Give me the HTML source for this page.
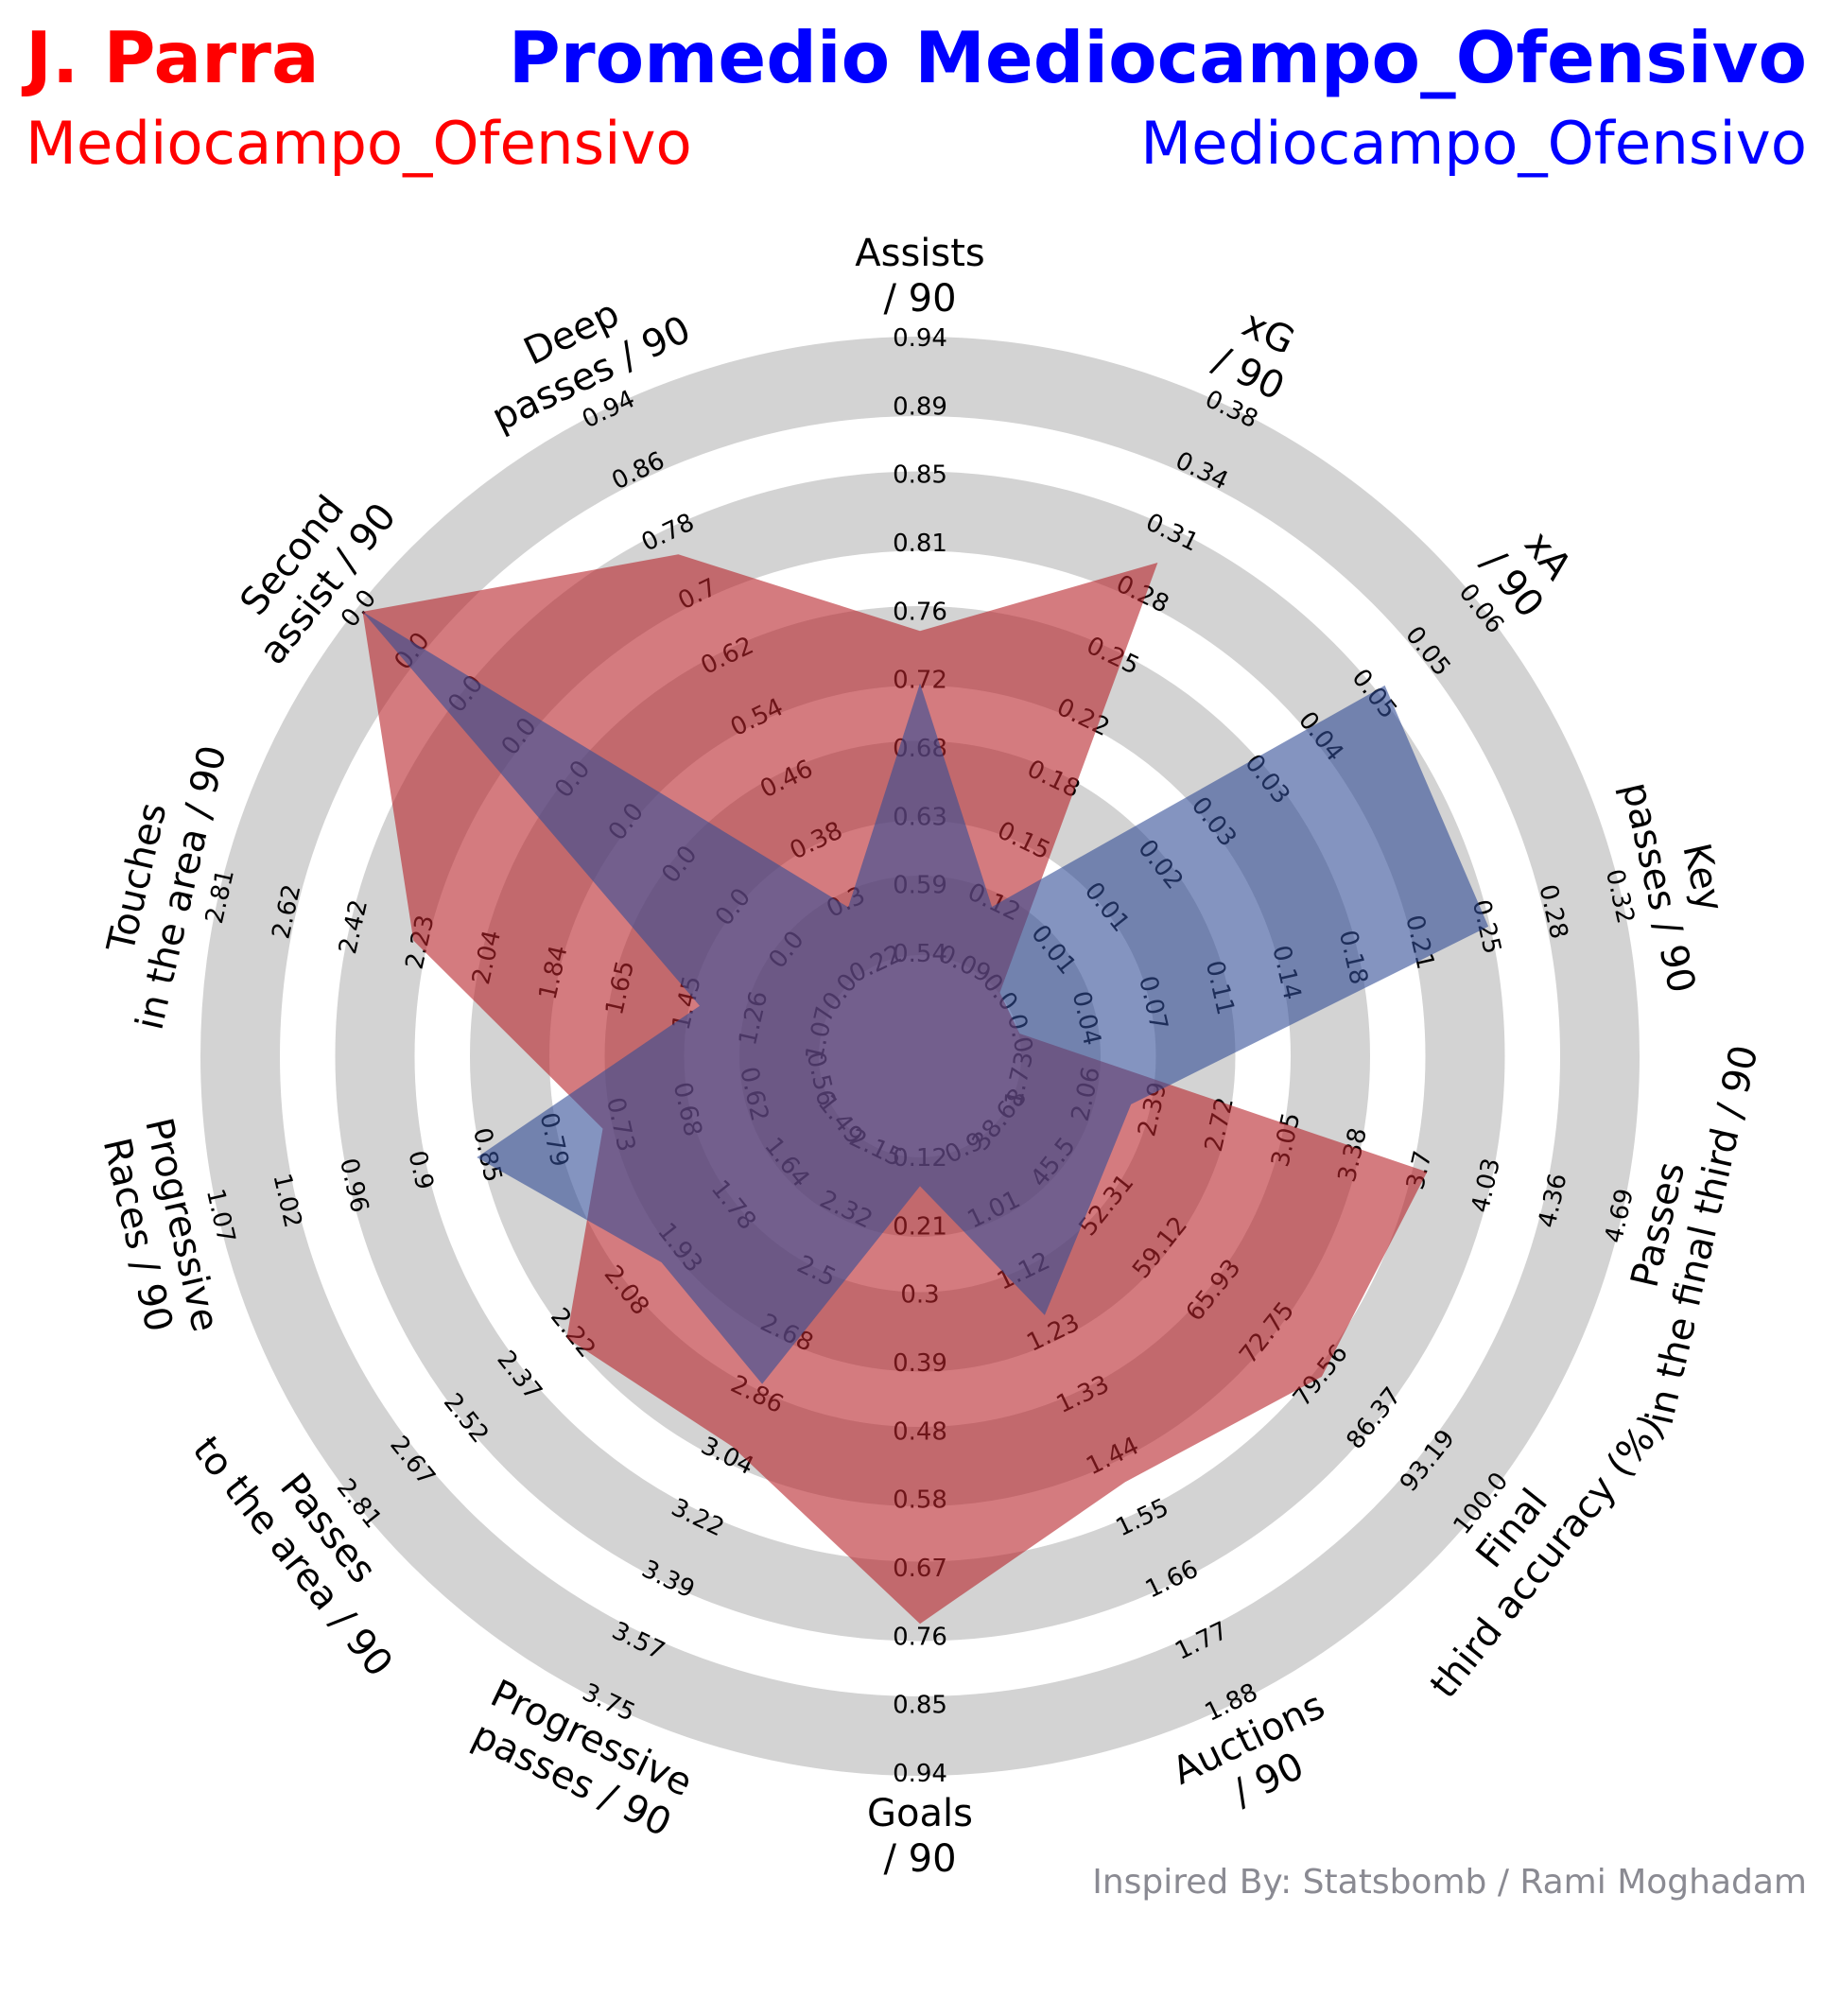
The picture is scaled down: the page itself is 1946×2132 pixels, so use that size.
<!DOCTYPE html>
<html><head><meta charset="utf-8"><style>
html,body{margin:0;padding:0;background:#fff}
svg{display:block}
text{font-family:"DejaVu Sans","Liberation Sans",sans-serif}
</style></head>
<body>
<svg id="chart" width="1946" height="2132" viewBox="0 0 1946 2132" xmlns="http://www.w3.org/2000/svg">
<rect x="0" y="0" width="1946" height="2132" fill="#fff"/>
<text x="27" y="87" font-size="75" font-weight="bold" fill="#ff0000">J. Parra</text>
<text x="1911" y="87" font-size="75" font-weight="bold" fill="#0000ff" text-anchor="end">Promedio Mediocampo_Ofensivo</text>
<text x="27" y="173" font-size="62.5" fill="#ff0000">Mediocampo_Ofensivo</text>
<text x="1911" y="173" font-size="62.5" fill="#0000ff" text-anchor="end">Mediocampo_Ofensivo</text>
<g id="rings"></g>
<g id="ticks"></g>
<g id="polys"></g>
<g id="cats"></g>
<text x="1911" y="2002" font-size="36" fill="#8a8a92" text-anchor="end">Inspired By: Statsbomb / Rami Moghadam</text>
</svg>
<script>
const categories = [
  ["Assists","/ 90"],["xG","/ 90"],["xA","/ 90"],["Key","passes / 90"],
  ["Passes","in the final third / 90"],["Final","third accuracy (%)"],["Auctions","/ 90"],
  ["Goals","/ 90"],["Progressive","passes / 90"],["Passes","to the area / 90"],
  ["Progressive","Races / 90"],["Touches","in the area / 90"],["Second","assist / 90"],["Deep","passes / 90"]
];
const tickLabels = [
  ["0.54","0.59","0.63","0.68","0.72","0.76","0.81","0.85","0.89","0.94"],
  ["0.09","0.12","0.15","0.18","0.22","0.25","0.28","0.31","0.34","0.38"],
  ["0.0","0.01","0.01","0.02","0.03","0.03","0.04","0.05","0.05","0.06"],
  ["0.0","0.04","0.07","0.11","0.14","0.18","0.21","0.25","0.28","0.32"],
  ["1.73","2.06","2.39","2.72","3.05","3.38","3.7","4.03","4.36","4.69"],
  ["38.68","45.5","52.31","59.12","65.93","72.75","79.56","86.37","93.19","100.0"],
  ["0.9","1.01","1.12","1.23","1.33","1.44","1.55","1.66","1.77","1.88"],
  ["0.12","0.21","0.3","0.39","0.48","0.58","0.67","0.76","0.85","0.94"],
  ["2.15","2.32","2.5","2.68","2.86","3.04","3.22","3.39","3.57","3.75"],
  ["1.49","1.64","1.78","1.93","2.08","2.22","2.37","2.52","2.67","2.81"],
  ["0.56","0.62","0.68","0.73","0.79","0.85","0.9","0.96","1.02","1.07"],
  ["1.07","1.26","1.45","1.65","1.84","2.04","2.23","2.42","2.62","2.81"],
  ["0.0","0.0","0.0","0.0","0.0","0.0","0.0","0.0","0.0","0.0"],
  ["0.22","0.3","0.38","0.46","0.54","0.62","0.7","0.78","0.86","0.94"]
];
const playerValues = [0.75,0.30,0.0,0.0,3.74,79.7,1.49,0.74,3.01,2.24,0.745,2.25,0.0,0.752];
const averageValues = [0.716,0.12,0.048,0.25,2.28,50.7,1.195,0.157,2.83,1.98,0.852,1.42,0.0,0.294];

const NS="http://www.w3.org/2000/svg";
const CX=973, CY=1117, R0=108, R9=759;
const N=categories.length;
function ang(k){return (90 - k*360/N)*Math.PI/180;}
function rScale(k,v){
  const lo=parseFloat(tickLabels[k][0]), hi=parseFloat(tickLabels[k][9]);
  if(hi===lo) return R9-5;
  return R0+(v-lo)/(hi-lo)*(R9-R0);
}
function pt(k,r){const a=ang(k);return [CX+r*Math.cos(a), CY-r*Math.sin(a)];}
function rot(k){
  let d=90-k*360/N; while(d>180)d-=360; while(d<=-180)d+=360;
  return d>=0 ? 90-d : -d-90;
}
function mk(tag,attrs){const e=document.createElementNS(NS,tag);for(const a in attrs)e.setAttribute(a,attrs[a]);return e;}

const rings=document.getElementById('rings');
for(let i=0;i<5;i++){
  const ro=761-142.5*i;
  const c=mk('circle',{cx:CX,cy:CY,r:ro-42,fill:'none',stroke:'#d3d3d3','stroke-width':84});
  
  
  rings.appendChild(c);
}

const tg=document.getElementById('ticks');
for(let k=0;k<N;k++){
  for(let j=0;j<10;j++){
    const [x,y]=pt(k,R0+j*(R9-R0)/9);
    const t=mk('text',{x:0,y:0,transform:`translate(${x.toFixed(1)},${y.toFixed(1)}) rotate(${rot(k).toFixed(2)})`,'font-size':26,'text-anchor':'middle','dominant-baseline':'central',fill:'#000'});
    t.textContent=tickLabels[k][j];
    
    
    tg.appendChild(t);
  }
}

const pg=document.getElementById('polys');
function poly(vals,color,name){
  const pts=vals.map((v,k)=>pt(k,rScale(k,v)).map(n=>n.toFixed(1)).join(',')).join(' ');
  const p=mk('polygon',{points:pts,fill:color,'fill-opacity':0.6});
  
  
  pg.appendChild(p);
}
poly(playerValues,'#b72329','player-polygon');
poly(averageValues,'#324d96','average-polygon');

const cg=document.getElementById('cats');
for(let k=0;k<N;k++){
  const [x,y]=pt(k,825);
  const g=mk('text',{x:0,y:0,transform:`translate(${x.toFixed(1)},${y.toFixed(1)}) rotate(${rot(k).toFixed(2)})`,'font-size':40,'text-anchor':'middle','dominant-baseline':'central',fill:'#000'});
  
  
  const lines=categories[k];
  lines.forEach((ln,i)=>{
    const s=mk('tspan',{x:0,y:((i-(lines.length-1)/2)*48).toFixed(1)});
    s.textContent=ln;
    g.appendChild(s);
  });
  cg.appendChild(g);
}
</script>
</body></html>
